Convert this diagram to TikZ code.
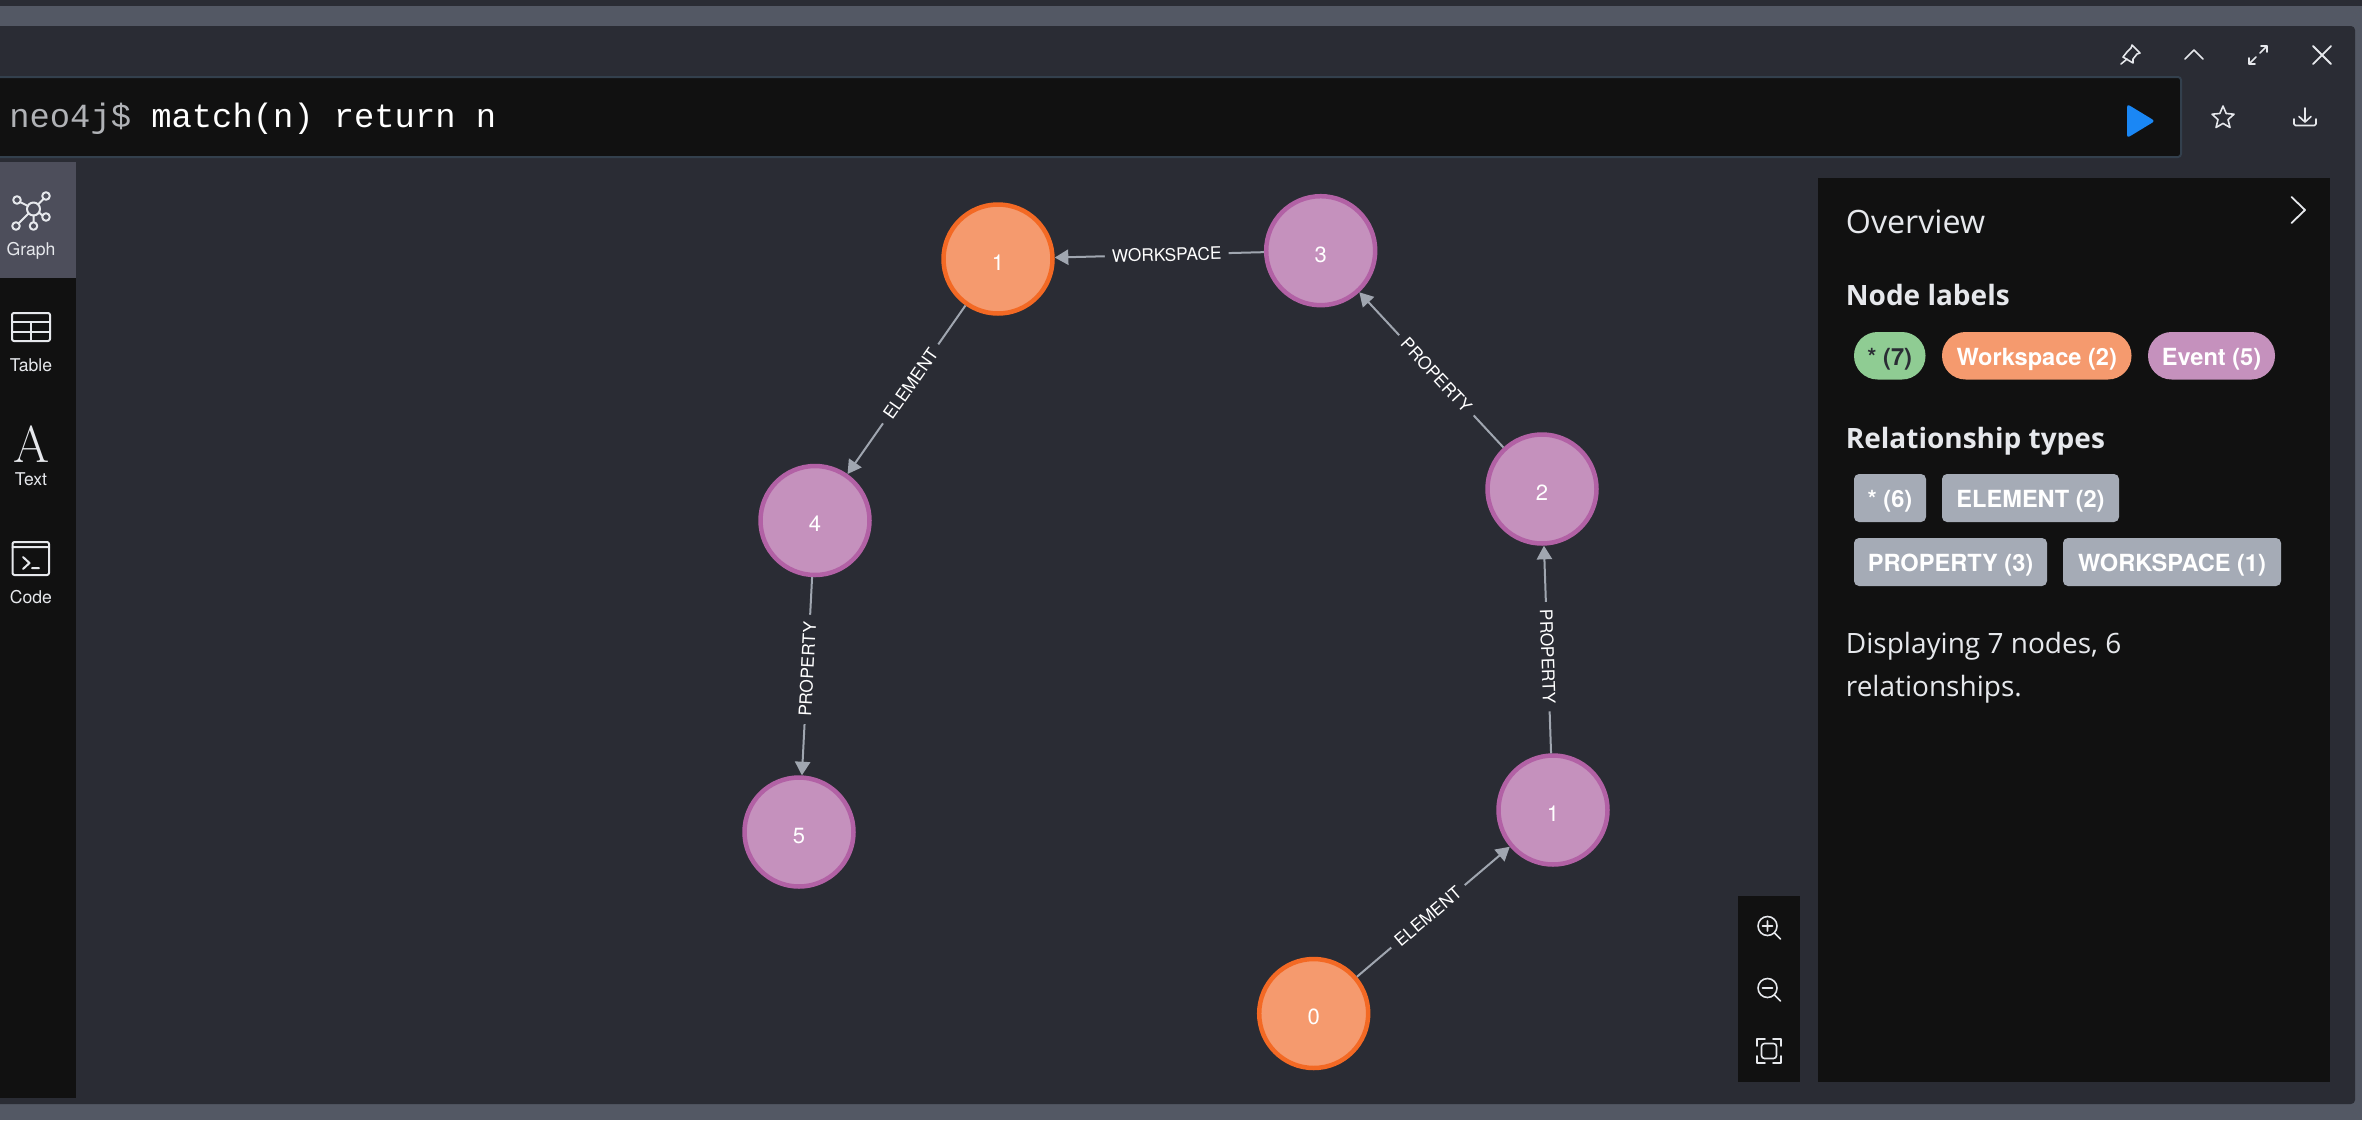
\documentclass[tikz,border=0pt]{standalone}
\usepackage{fontspec}
\usetikzlibrary{arrows.meta}
\newfontfamily\hvf{TeX Gyre Heros}
\newfontfamily\osf{Open Sans}
\newfontfamily\monof{Liberation Mono}
\newcommand{\fsz}[1]{\fontsize{#1}{#1}\selectfont}
\definecolor{panelbg}{HTML}{2A2C34}
\definecolor{stripbg}{HTML}{535864}
\definecolor{blackbg}{HTML}{111111}
\definecolor{barline}{HTML}{33404D}
\definecolor{hilite}{HTML}{4D4E5B}
\definecolor{wsfill}{HTML}{F59A6E}
\definecolor{wsline}{HTML}{F36924}
\definecolor{evfill}{HTML}{C591BD}
\definecolor{evline}{HTML}{B261A5}
\definecolor{greenpill}{HTML}{8FCC93}
\definecolor{relpill}{HTML}{A5ABB6}
\definecolor{edgecol}{HTML}{A0A6B0}
\definecolor{iconcol}{HTML}{E6E8EC}
\definecolor{playblue}{HTML}{1A87F5}
\definecolor{prompt}{HTML}{B0B2B6}
\tikzset{
  gnode/.style={circle,minimum size=54.5pt,line width=2.25pt,inner sep=0pt,text=white,
    font=\hvf\fsz{11pt},text height=11.4pt,text depth=0pt},
  wsnode/.style={gnode,draw=wsline,fill=wsfill},
  evnode/.style={gnode,draw=evline,fill=evfill},
  edge/.style={draw=edgecol,line width=1pt,-{Triangle[length=6.8pt,width=7.6pt]}},
  elabel/.style={sloped,fill=panelbg,text=white,font=\hvf\fsz{8.65pt},inner xsep=3.6pt,inner ysep=1pt,pos=.465},
  pill/.style={inner sep=0pt,minimum height=23.75pt,rounded corners=11.8pt,font=\hvf\bfseries\fsz{11.8pt},text=white,text height=9.5pt,text depth=0pt},
  relbox/.style={inner sep=0pt,minimum height=24pt,rounded corners=2.5pt,fill=relpill,font=\hvf\bfseries\fsz{11.8pt},text=white,text height=9.7pt,text depth=0pt},
  side/.style={text=iconcol,font=\hvf\fsz{8.8pt},inner sep=0pt},
  ico/.style={draw=iconcol,line width=1pt,line cap=round,line join=round},
  head/.style={anchor=base west,inner sep=0pt,text=iconcol},
}
\begin{document}
\begin{tikzpicture}[x=0.5pt,y=-0.5pt]
\clip (0,0) rectangle (2362,1120);
% window background
\fill[stripbg] (0,0) rectangle (2362,1120);
\fill[panelbg] (0,0) rectangle (2362,6);
\fill[panelbg,rounded corners=2pt] (-20,26) rectangle (2355,1104);
% query bar
\draw[barline,fill=blackbg,line width=1pt,rounded corners=1.5pt] (-20,77) rectangle (2181,157);
\node[anchor=base west,inner sep=0pt,font=\monof\fsz{16.9pt},text=white] (query) at (9,127.5)
  {\textcolor{prompt}{neo4j\$} match(n) return n};
\fill[playblue,rounded corners=1.5pt] (2127,104) -- (2155,121) -- (2127,138) -- cycle;
% window icons
\begin{scope}[shift={(2130,55)}]
  \draw[ico,line width=.8pt] (2,-10) -- (10,-2) -- (7,-1) -- (3,4) -- (3,8) -- (-7,-2+4) -- (-3,-3) -- (1,-7) -- cycle;
  \draw[ico,line width=.8pt] (-3,4) -- (-9,9);
\end{scope}
\draw[ico,line width=.8pt] (2185,59) -- (2194,50) -- (2203,59);
\begin{scope}[shift={(2258,55)}]
  \draw[ico,line width=.8pt] (2,-2) -- (9,-9) (3,-9) -- (9,-9) -- (9,-3);
  \draw[ico,line width=.8pt] (-2,2) -- (-9,9) (-9,3) -- (-9,9) -- (-3,9);
\end{scope}
\draw[ico,line width=.9pt] (2313,46) -- (2331,64) (2331,46) -- (2313,64);
\draw[ico,line width=.8pt] (2223,106) -- (2226.2,113.5) -- (2234,114.2) -- (2228,119.6) -- (2230,127.5)
  -- (2223,123.4) -- (2216,127.5) -- (2218,119.6) -- (2212,114.2) -- (2219.8,113.5) -- cycle;
\draw[ico,line width=.8pt] (2305,108) -- (2305,122) (2299,116.5) -- (2305,122) -- (2311,116.5)
  (2294,119) -- (2294,124) arc[start angle=180,end angle=90,radius=1.5] -- (2314.5,125.5) arc[start angle=90,end angle=0,radius=1.5] -- (2316,119);
% sidebar
\fill[blackbg] (0,162) rectangle (76,1098);
\fill[hilite] (0,162) rectangle (76,278);
\begin{scope}
  \draw[ico] (33.5,209) circle[radius=6.5];
  \foreach \px/\py in {17/200,46/196,46/217,33.5/226,16/226}{
    \draw[ico] (\px,\py) circle[radius=3.8];}
  \draw[ico] (20,202) -- (28,206) (43.5,199) -- (38,204.5) (42.5,215.5) -- (39,212.5) (33.5,215.5) -- (33.5,222) (19,223) -- (28.5,213.5);
\end{scope}
\node[side] (graphlbl) at (31,250.5) {Graph};
\draw[ico,rounded corners=1pt] (12,313) rectangle (50,341);
\draw[ico] (12,322) -- (50,322) (12,331.5) -- (50,331.5) (31,322) -- (31,341);
\node[side] (tablelbl) at (31,365.5) {Table};
\node[inner sep=0pt,text=iconcol,font=\rmfamily\fsz{26pt}] (atext) at (31.5,444) {A};
\node[side] (textlbl) at (31,479) {Text};
\draw[ico,rounded corners=1pt] (12.5,542) rectangle (49,575);
\draw[ico] (12.5,547) -- (49,547) (23,557) -- (29.5,563) -- (23,569) (32,568) -- (39,568);
\node[side] (codelbl) at (31,597) {Code};
% zoom controls
\fill[blackbg] (1738,896) rectangle (1800,1082);
\begin{scope}[shift={(1767.5,926)}]
  \draw[ico,line width=.8pt] (0,0) circle[radius=9.5] (-5,0) -- (5,0) (0,-5) -- (0,5) (7,7) -- (13,13);
\end{scope}
\begin{scope}[shift={(1767.5,988)}]
  \draw[ico,line width=.8pt] (0,0) circle[radius=9.5] (-5,0) -- (5,0) (7,7) -- (13,13);
\end{scope}
\begin{scope}[shift={(1769,1051)}]
  \draw[ico,line width=.8pt,rounded corners=1.5pt] (-7.5,-7.5) rectangle (7.5,7.5);
  \draw[ico,line width=.8pt] (-12,-5) -- (-12,-12) -- (-4,-12) (4,-12) -- (12,-12) -- (12,-5) (12,5) -- (12,12) -- (4,12) (-4,12) -- (-12,12) -- (-12,5);
\end{scope}
% overview panel
\fill[blackbg] (1818,178) rectangle (2330,1082);
\draw[ico,line width=.9pt] (2291.5,197) -- (2305,210) -- (2291.5,223);
\node[head,font=\osf\fsz{16.1pt}] (overview) at (1845.5,233.5) {Overview};
\node[head,font=\osf\bfseries\fsz{14pt}] (nodelabels) at (1845.5,305) {Node labels};
\node[pill,fill=greenpill,text=panelbg,minimum width=35.75pt] (pstar) at (1889.75,355.75) {* (7)};
\node[pill,fill=wsfill,minimum width=94.75pt] (pws) at (2036.75,355.75) {Workspace (2)};
\node[pill,fill=evfill,minimum width=63.5pt] (pev) at (2211.5,355.75) {Event (5)};
\node[head,font=\osf\bfseries\fsz{14pt}] (reltypes) at (1845.5,448) {Relationship types};
\node[relbox,minimum width=36pt] (rstar) at (1890,498) {* (6)};
\node[relbox,minimum width=88.5pt] (rel) at (2030.5,498) {ELEMENT (2)};
\node[relbox,minimum width=96.5pt] (rpr) at (1950.5,562) {PROPERTY (3)};
\node[relbox,minimum width=109pt] (rwk) at (2172,562) {WORKSPACE (1)};
\node[head,font=\osf\fsz{14pt}] (disp1) at (1845.5,653) {Displaying 7 nodes, 6};
\node[head,font=\osf\fsz{14pt}] (disp2) at (1845.5,696) {relationships.};
% graph nodes
\node[wsnode] (W1) at (998,259) {1};
\node[evnode] (E3) at (1320.7,250.7) {3};
\node[evnode] (E2) at (1542,489) {2};
\node[evnode] (E1) at (1553,810) {1};
\node[wsnode] (W0) at (1313.7,1013.5) {0};
\node[evnode] (E4) at (815,520.5) {4};
\node[evnode] (E5) at (799,832) {5};
% graph edges
\draw[edge] (E3) -- node[elabel]{WORKSPACE} (W1);
\draw[edge] (W1) -- node[elabel]{ELEMENT} (E4);
\draw[edge] (E4) -- node[elabel]{PROPERTY} (E5);
\draw[edge] (W0) -- node[elabel]{ELEMENT} (E1);
\draw[edge] (E1) -- node[elabel]{PROPERTY} (E2);
\draw[edge] (E2) -- node[elabel]{PROPERTY} (E3);
\end{tikzpicture}
\end{document}
